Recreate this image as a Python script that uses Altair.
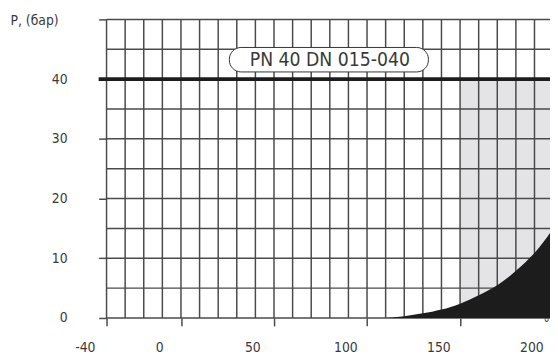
import altair as alt
import pandas as pd

# ---- data ----
curve_t = [110, 115, 120, 125, 130, 135, 140, 145, 150, 155, 160, 165, 170, 175, 180, 185, 190, 195, 200, 205, 210]
curve_p = [0, 0.12, 0.3, 0.55, 0.8, 1.05, 1.4, 1.85, 2.4, 3.05, 3.8, 4.6, 5.5, 6.6, 7.9, 9.3, 10.9, 12.8, 15.0, 17.5, 20.2]

grid_t = [-40, -30, -20, -10, 0, 10, 20, 30, 40, 50, 60, 70, 80, 90, 100, 110, 120,
          130, 140, 150, 160, 170, 180, 190, 200, 210]
grid_p = [0, 5, 10, 15, 20, 25, 30, 35, 40, 45, 50]

x_ticks = [-40, 0, 50, 100, 150, 200]
y_ticks = [0, 10, 20, 30, 40, 50]

shade_t = [150, 212]
shade_p = [0, 40]

pn_value = 40
label_text = ["PN 40 DN 015-040"]
label_t = [80]
label_p = [43.2]
box_t = [26, 133]
box_p = [41.2, 45.3]

T_MIN, T_MAX = -40, 212
FONT = "DejaVu Sans Condensed, Liberation Sans Narrow, Roboto, sans-serif"
GRID = "#4a4a4a"
TXT = "#3a3a3a"

xs = alt.Scale(domain=[T_MIN, T_MAX], range=[0, 475.8], nice=False, zero=False)
ys = alt.Scale(domain=[0, 50], nice=False, zero=False)

curve_df = pd.DataFrame({"t": curve_t, "p": curve_p})
vgrid_df = pd.DataFrame({"t": grid_t})
hgrid_df = pd.DataFrame({"p": grid_p})
shade_df = pd.DataFrame({"t1": [shade_t[0]], "t2": [shade_t[1]], "p1": [shade_p[0]], "p2": [shade_p[1]]})
box_df = pd.DataFrame({"t1": [box_t[0]], "t2": [box_t[1]], "p1": [box_p[0]], "p2": [box_p[1]]})
label_df = pd.DataFrame({"t": label_t, "p": label_p, "txt": label_text})
pn_df = pd.DataFrame({"p": [pn_value], "t1": [T_MIN], "t2": [T_MAX]})

x_axis = alt.Axis(values=x_ticks, grid=False, domain=False, tickSize=8, tickColor=GRID,
                  tickWidth=1.5, labelOffset=-22, labelFlush=False, labelPadding=15,
                  labelFontSize=14, labelColor=TXT, labelFont=FONT,
                  labelExpr="'' + datum.value",
                  title="°C", titleFont=FONT,
                  titleFontSize=14, titleFontWeight="normal", titleColor=TXT,
                  titleX=443, titleY=-1, titleAlign="left", titleBaseline="top",
                  titleAnchor="start")
y_axis = alt.Axis(values=y_ticks, grid=False, domain=False, tickSize=8, tickColor=GRID,
                  tickWidth=1.5, labelPadding=32, labelFontSize=14, labelColor=TXT,
                  labelFont=FONT, labelExpr="datum.value == 50 ? '' : '' + datum.value",
                  title="P, (бар)", titleFont=FONT, titleFontSize=14,
                  titleFontWeight="normal", titleColor=TXT, titleAngle=0,
                  titleX=-98, titleY=1, titleAlign="left", titleBaseline="middle")

shade = alt.Chart(shade_df).mark_rect(color="#e4e4e6").encode(
    x=alt.X("t1:Q", scale=xs, axis=x_axis), x2="t2:Q",
    y=alt.Y("p1:Q", scale=ys, axis=y_axis), y2="p2:Q")

vgrid = alt.Chart(vgrid_df).mark_rule(color=GRID, strokeWidth=1.5).encode(
    x=alt.X("t:Q", scale=xs), y=alt.datum(0), y2=alt.datum(50))

hgrid = alt.Chart(hgrid_df).mark_rule(color=GRID, strokeWidth=1.5).encode(
    y=alt.Y("p:Q", scale=ys), x=alt.datum(T_MIN), x2=alt.datum(T_MAX))

area = alt.Chart(curve_df).mark_area(color="#1c1c1c", interpolate="monotone", opacity=1).encode(
    x=alt.X("t:Q", scale=xs), y=alt.Y("p:Q", scale=ys))

pn_line = alt.Chart(pn_df).mark_rule(color="#1c1c1c", strokeWidth=4, xOffset=-8).encode(
    y=alt.Y("p:Q", scale=ys), x=alt.X("t1:Q", scale=xs), x2="t2:Q")

box = alt.Chart(box_df).mark_rect(fill="white", stroke="#333", strokeWidth=1,
                                  cornerRadius=12).encode(
    x=alt.X("t1:Q", scale=xs), x2="t2:Q", y=alt.Y("p1:Q", scale=ys), y2="p2:Q")

label = alt.Chart(label_df).mark_text(font=FONT, fontSize=19.5, color=TXT,
                                      align="center", baseline="middle").encode(
    x=alt.X("t:Q", scale=xs), y=alt.Y("p:Q", scale=ys), text="txt:N")

chart = alt.layer(shade, vgrid, hgrid, area, pn_line, box, label).properties(
    width=450, height=303,
    autosize=alt.AutoSizeParams(type="none"),
    padding={"left": 100, "top": 9, "right": 0, "bottom": 35},
    background="white",
).configure_view(stroke=None)

chart.save("out.html", embed_options={"renderer": "svg", "actions": False})
